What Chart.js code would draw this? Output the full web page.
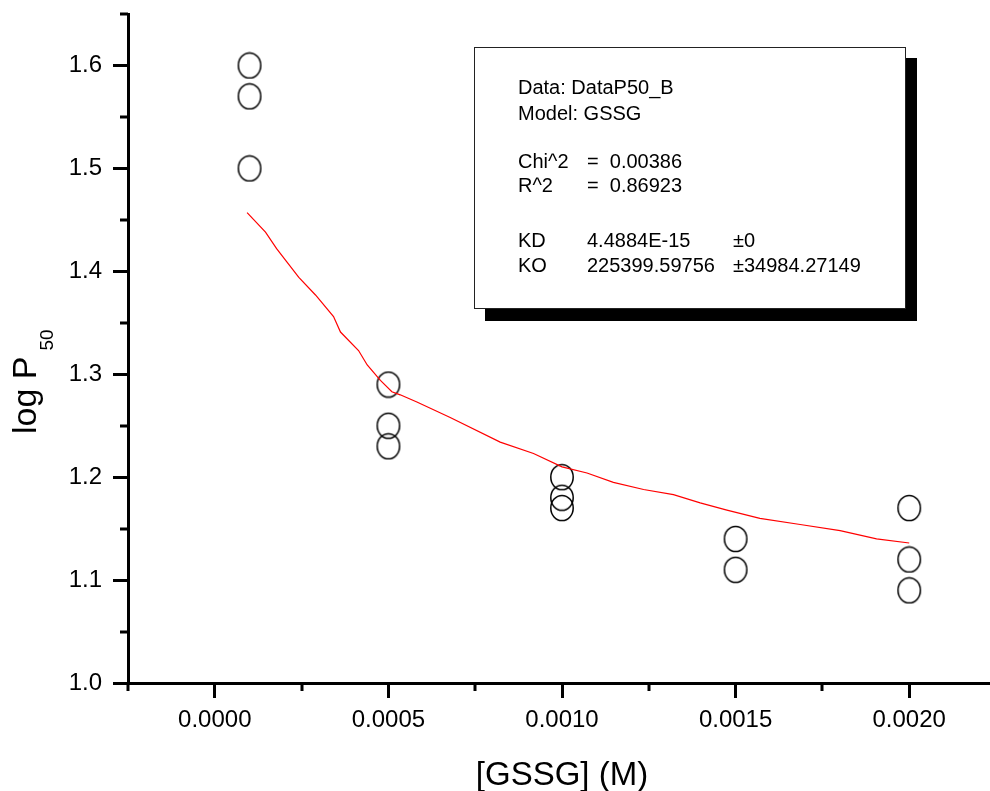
<!DOCTYPE html>
<html>
<head>
<meta charset="utf-8">
<script src="https://cdn.jsdelivr.net/npm/chart.js@4.4.1/dist/chart.umd.min.js"></script>
<style>
  html, body { margin: 0; padding: 0; background: #fff; overflow: hidden; }
</style>
</head>
<body>
<!-- the x axis runs a few pixels past the right edge of the picture -->
<canvas id="chart" width="996" height="791"></canvas>
<script>
// measured points
const gssg = [0.0001, 0.0001, 0.0001, 0.0005, 0.0005, 0.0005, 0.001, 0.001, 0.001, 0.0015, 0.0015, 0.002, 0.002, 0.002];
const logP50 = [1.60, 1.57, 1.50, 1.29, 1.25, 1.23, 1.20, 1.18, 1.17, 1.14, 1.11, 1.17, 1.12, 1.09];

// fitted curve
const fitX = [0.000093, 0.000146, 0.000178, 0.000208, 0.000242, 0.00029, 0.000342, 0.000362, 0.000414, 0.000439,
  0.000477, 0.00051, 0.000534, 0.000582, 0.000678, 0.000822, 0.000918, 0.001, 0.001072, 0.001148,
  0.001235, 0.001321, 0.001398, 0.001475, 0.00157, 0.001686, 0.001801, 0.001906, 0.002];
const fitY = [1.457, 1.438, 1.422, 1.409, 1.394, 1.377, 1.356, 1.341, 1.323, 1.309,
  1.294, 1.283, 1.280, 1.273, 1.258, 1.234, 1.223, 1.210, 1.204, 1.195,
  1.188, 1.183, 1.175, 1.168, 1.160, 1.154, 1.148, 1.140, 1.136];

const xTicks = [0, 0.0005, 0.001, 0.0015, 0.002];
const xMinor = [-0.00025, 0.00025, 0.00075, 0.00125, 0.00175];
const yTicks = [1.0, 1.1, 1.2, 1.3, 1.4, 1.5, 1.6];
const yMinor = [1.05, 1.15, 1.25, 1.35, 1.45, 1.55, 1.65];

const fitText = [
  ['Data: DataP50_B'],
  ['Model: GSSG'],
  null,
  ['Chi^2', '=  0.00386'],
  ['R^2', '=  0.86923'],
  null,
  ['KD', '4.4884E-15', '\u00b10'],
  ['KO', '225399.59756', '\u00b134984.27149']
];

const FONT = '"Liberation Sans", Arial, sans-serif';

function ellipse() {
  let c = document.createElement('canvas');
  c.width = 26;
  c.height = 28;
  let g = c.getContext('2d');
  g.strokeStyle = '#000';
  g.lineWidth = 1.5;
  g.beginPath();
  g.ellipse(13, 14, 11.2, 12.6, 0, 0, Math.PI * 2);
  g.stroke();
  return c;
}

const decorations = {
  id: 'decorations',
  afterDraw(chart) {
    let ctx = chart.ctx;
    let xs = chart.scales.x;
    let ys = chart.scales.y;
    let area = chart.chartArea;

    ctx.save();
    ctx.strokeStyle = '#000';
    ctx.lineWidth = 3;
    ctx.beginPath();
    xMinor.forEach(v => {
      let px = Math.round(xs.getPixelForValue(v));
      ctx.moveTo(px, area.bottom);
      ctx.lineTo(px, area.bottom + 8);
    });
    yMinor.forEach(v => {
      let py = Math.round(ys.getPixelForValue(v));
      ctx.moveTo(area.left, py);
      ctx.lineTo(area.left - 8, py);
    });
    ctx.stroke();

    // fit report box
    ctx.fillStyle = '#000';
    ctx.fillRect(485, 58, 432, 263);
    ctx.fillStyle = '#fff';
    ctx.fillRect(474, 47, 431, 261);
    ctx.strokeStyle = '#222';
    ctx.lineWidth = 1;
    ctx.strokeRect(474.5, 47.5, 431, 261);

    ctx.fillStyle = '#000';
    ctx.font = '20px ' + FONT;
    ctx.textAlign = 'left';
    ctx.textBaseline = 'alphabetic';
    let baselines = [94, 120, 0, 168, 192, 0, 247, 272];
    let cols = [518, 587, 733];
    fitText.forEach((row, i) => {
      if (!row) return;
      row.forEach((t, j) => ctx.fillText(t, cols[j], baselines[i]));
    });

    // axis titles
    ctx.font = '33px ' + FONT;
    ctx.textAlign = 'center';
    ctx.fillText('[GSSG] (M)', 562, 785);

    ctx.translate(36, 434);
    ctx.rotate(-Math.PI / 2);
    ctx.textAlign = 'left';
    ctx.font = '34px ' + FONT;
    ctx.fillText('log P', 0, 0);
    let w = ctx.measureText('log P').width;
    ctx.font = '19px ' + FONT;
    ctx.fillText('50', w + 6, 17);
    ctx.restore();
  }
};

new Chart(document.getElementById('chart'), {
  type: 'scatter',
  data: {
    datasets: [
      {
        label: 'fit',
        type: 'line',
        data: fitX.map((x, i) => ({ x, y: fitY[i] })),
        borderColor: '#ff0000',
        borderWidth: 1.2,
        pointRadius: 0,
        tension: 0,
        fill: false
      },
      {
        label: 'DataP50_B',
        data: gssg.map((x, i) => ({ x, y: logP50[i] })),
        pointStyle: ellipse(),
        pointRadius: 12
      }
    ]
  },
  options: {
    responsive: false,
    animation: false,
    devicePixelRatio: 1,
    layout: { autoPadding: false, padding: { top: 14, right: 0, left: 0, bottom: 0 } },
    plugins: { legend: { display: false }, tooltip: { enabled: false } },
    scales: {
      x: {
        type: 'linear',
        min: -0.00025,
        max: 0.00225,
        afterBuildTicks: s => { s.ticks = xTicks.map(value => ({ value })); },
        afterFit: s => { s.height = 108; s.paddingLeft = 0; s.paddingRight = 0; },
        border: { display: true, color: '#000', width: 3 },
        grid: { drawOnChartArea: false, tickLength: 15, tickWidth: 3, tickColor: '#000' },
        ticks: {
          padding: 8,
          color: '#000',
          font: { family: FONT, size: 24 },
          maxRotation: 0,
          callback: v => v.toFixed(4)
        }
      },
      y: {
        type: 'linear',
        min: 1.0,
        max: 1.65,
        afterBuildTicks: s => { s.ticks = yTicks.map(value => ({ value })); },
        afterFit: s => { s.width = 128; s.paddingTop = 0; s.paddingBottom = 0; },
        border: { display: true, color: '#000', width: 3 },
        grid: { drawOnChartArea: false, tickLength: 15, tickWidth: 3, tickColor: '#000' },
        ticks: {
          padding: 11,
          color: '#000',
          font: { family: FONT, size: 24 },
          callback: v => v.toFixed(1)
        }
      }
    }
  },
  plugins: [decorations]
});
</script>
</body>
</html>
